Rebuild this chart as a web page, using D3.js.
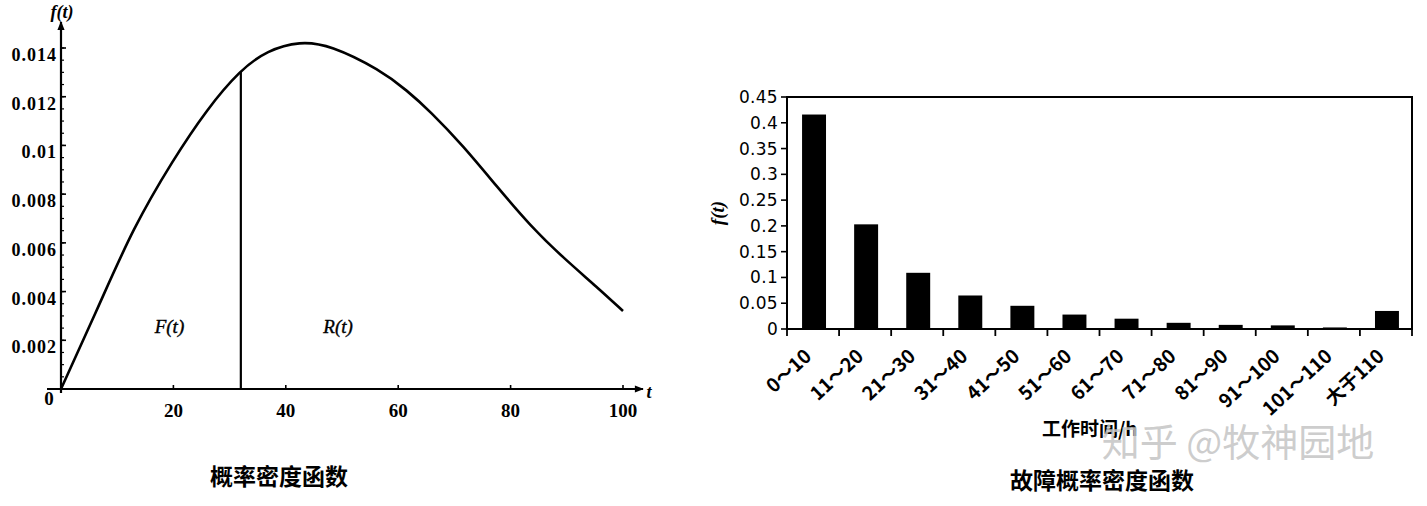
<!DOCTYPE html>
<html><head><meta charset="utf-8">
<script src="https://cdn.jsdelivr.net/npm/d3@7"></script>
<style>
body{margin:0;background:#fff;}
svg{display:block;}
.serif{font-family:"Liberation Serif","DejaVu Serif",serif;}
.cjk{font-family:"Noto Sans CJK SC",sans-serif;}
</style></head>
<body>
<svg id="chart" width="1427" height="506"></svg>
<script>
// ---- Left chart data: probability density curve ----
const curveT = [0, 6.9, 12.8, 19.9, 26, 31.9, 36.7, 42.5, 47.9, 56.8, 61.6, 65.7, 71.5, 77.6, 83.5, 89.3, 95.4, 100];
const curveF = [0, 0.0035, 0.0066, 0.0094, 0.0115, 0.0131, 0.0139, 0.01428, 0.01412, 0.0131, 0.01225, 0.0114, 0.0100, 0.0083, 0.0067, 0.0054, 0.00418, 0.0032];
const splitT = 32;
const splitF = 0.01302;
const leftYTicks = [0.002, 0.004, 0.006, 0.008, 0.01, 0.012, 0.014];
const leftYTickLabels = ["0.002", "0.004", "0.006", "0.008", "0.01", "0.012", "0.014"];
const leftXTicks = [20, 40, 60, 80, 100];
const leftXTickLabels = ["20", "40", "60", "80", "100"];
const leftTitle = "概率密度函数";

// ---- Right chart data: failure probability density bars ----
const categories = ["0～10", "11～20", "21～30", "31～40", "41～50", "51～60", "61～70", "71～80", "81～90", "91～100", "101～110", "大于110"];
const barValues = [0.416, 0.203, 0.109, 0.065, 0.045, 0.028, 0.020, 0.012, 0.008, 0.007, 0.003, 0.035];
const rightYTicks = [0, 0.05, 0.1, 0.15, 0.2, 0.25, 0.3, 0.35, 0.4, 0.45];
const rightYTickLabels = ["0", "0.05", "0.1", "0.15", "0.2", "0.25", "0.3", "0.35", "0.4", "0.45"];
const rightXTitle = "工作时间/h";
const rightTitle = "故障概率密度函数";
const watermark = "知乎 @牧神园地";

const svg = d3.select("#chart");
svg.append("rect").attr("width",1427).attr("height",506).attr("fill","#fff");

// ================= LEFT CHART =================
const lx = d3.scaleLinear().domain([0,100]).range([61,623]);
const ly = d3.scaleLinear().domain([0,0.014]).range([389,48]);
const L = svg.append("g");

const defs = svg.append("defs");
defs.append("marker").attr("id","arr").attr("viewBox","0 0 10 10").attr("refX",9).attr("refY",5)
  .attr("markerWidth",14).attr("markerHeight",9).attr("markerUnits","userSpaceOnUse").attr("orient","auto")
  .append("path").attr("d","M0,1 L10,5 L0,9 Z").attr("fill","#000");

L.append("line").attr("x1",lx(0)).attr("x2",lx(0)).attr("y1",393).attr("y2",22)
  .attr("stroke","#000").attr("stroke-width",2.2).attr("marker-end","url(#arr)");
L.append("line").attr("x1",47).attr("x2",643).attr("y1",ly(0)).attr("y2",ly(0))
  .attr("stroke","#000").attr("stroke-width",2.2).attr("marker-end","url(#arr)");

const minor = d3.range(1,29).map(i=>i*0.0005);
L.selectAll(".mt").data(minor).enter().append("line")
  .attr("x1",lx(0)).attr("x2",lx(0)+3).attr("y1",d=>ly(d)).attr("y2",d=>ly(d))
  .attr("stroke","#000").attr("stroke-width",1.2);
L.selectAll(".Mt").data(leftYTicks).enter().append("line")
  .attr("x1",lx(0)).attr("x2",lx(0)+5).attr("y1",d=>ly(d)).attr("y2",d=>ly(d))
  .attr("stroke","#000").attr("stroke-width",1.6);
L.selectAll(".yl").data(leftYTicks).enter().append("text").attr("class","serif")
  .attr("x",57).attr("y",d=>ly(d)+13).attr("text-anchor","end")
  .attr("font-size",18).attr("letter-spacing",1).attr("font-weight","bold")
  .text((d,i)=>leftYTickLabels[i]);
L.selectAll(".xt").data(leftXTicks).enter().append("line")
  .attr("x1",d=>lx(d)).attr("x2",d=>lx(d)).attr("y1",ly(0)).attr("y2",ly(0)-4)
  .attr("stroke","#000").attr("stroke-width",1.6);
L.selectAll(".xl").data(leftXTicks).enter().append("text").attr("class","serif")
  .attr("x",d=>lx(d)).attr("y",417).attr("text-anchor","middle")
  .attr("font-size",19).attr("font-weight","bold")
  .text((d,i)=>leftXTickLabels[i]);
L.append("text").attr("class","serif").attr("x",49).attr("y",405).attr("text-anchor","middle")
  .attr("font-size",19).attr("font-weight","bold").text("0");
L.append("text").attr("class","serif").attr("x",649).attr("y",398).attr("text-anchor","middle")
  .attr("font-size",18).attr("font-style","italic").attr("font-weight","bold").text("t");
L.append("text").attr("class","serif").attr("x",62).attr("y",18).attr("text-anchor","middle")
  .attr("font-size",18).attr("font-style","italic").attr("font-weight","bold").text("f(t)");

const pts = curveT.map((t,i)=>[t,curveF[i]]);
L.append("path").datum(pts)
  .attr("d", d3.line().x(d=>lx(d[0])).y(d=>ly(d[1])).curve(d3.curveBasis))
  .attr("fill","none").attr("stroke","#000").attr("stroke-width",2.6);
L.append("line").attr("x1",lx(splitT)).attr("x2",lx(splitT)).attr("y1",ly(0)).attr("y2",ly(splitF))
  .attr("stroke","#000").attr("stroke-width",2.2);
L.append("text").attr("class","serif").attr("x",lx(19.3)).attr("y",333).attr("text-anchor","middle")
  .attr("font-size",19).attr("font-style","italic").attr("stroke","#000").attr("stroke-width",0.4).text("F(t)");
L.append("text").attr("class","serif").attr("x",lx(49.3)).attr("y",333).attr("text-anchor","middle")
  .attr("font-size",19).attr("font-style","italic").attr("stroke","#000").attr("stroke-width",0.4).text("R(t)");
L.append("text").attr("class","cjk").attr("x",279).attr("y",485).attr("text-anchor","middle")
  .attr("font-size",23).attr("font-weight","bold").text(leftTitle);

// ================= RIGHT CHART =================
const R = svg.append("g");
const bx = d3.scaleBand().domain(categories).range([787,1412]).paddingInner(0.54).paddingOuter(0.27);
const by = d3.scaleLinear().domain([0,0.45]).range([329,97]);

R.append("rect").attr("x",787).attr("y",by(0.45)).attr("width",1412-787).attr("height",by(0)-by(0.45))
  .attr("fill","none").attr("stroke","#000").attr("stroke-width",2);

R.selectAll(".bar").data(barValues).enter().append("rect")
  .attr("x",(d,i)=>bx(categories[i])+1).attr("width",bx.bandwidth())
  .attr("y",d=>by(d)).attr("height",d=>by(0)-by(d)).attr("fill","#000");

R.selectAll(".ryt").data(rightYTicks).enter().append("line")
  .attr("x1",781).attr("x2",787).attr("y1",d=>by(d)).attr("y2",d=>by(d))
  .attr("stroke","#000").attr("stroke-width",1.6);
R.selectAll(".ryl").data(rightYTicks).enter().append("text")
  .attr("x",778).attr("y",d=>by(d)+6).attr("text-anchor","end")
  .attr("font-family","DejaVu Sans, sans-serif").attr("font-size",17).attr("letter-spacing",0.3)
  .attr("font-weight","500")
  .text((d,i)=>rightYTickLabels[i]);
R.append("text").attr("class","serif").attr("transform","translate(724,213) rotate(-90)")
  .attr("text-anchor","middle").attr("font-size",19).attr("font-style","italic").attr("font-weight","bold").text("f(t)");

const bounds = categories.map(c=>bx(c)-bx.step()*bx.paddingInner()/2).concat([1412]);
R.selectAll(".rxt").data(bounds).enter().append("line")
  .attr("x1",d=>d).attr("x2",d=>d).attr("y1",by(0)).attr("y2",by(0)+7)
  .attr("stroke","#000").attr("stroke-width",1.8);
R.selectAll(".rxl").data(categories).enter().append("text")
  .attr("transform",d=>`translate(${bx(d)+bx.bandwidth()/2-5},${by(0)+24}) rotate(-43)`)
  .attr("text-anchor","end").attr("font-family","Noto Sans CJK SC, sans-serif")
  .attr("font-size",19).attr("font-weight","bold").attr("dy","0.35em")
  .text(d=>d);
R.append("text").attr("class","cjk").attr("x",1042).attr("y",436)
  .attr("font-size",19).attr("font-weight","bold").text(rightXTitle);
R.append("text").attr("class","cjk").attr("x",1102).attr("y",489).attr("text-anchor","middle")
  .attr("font-size",23).attr("font-weight","bold").text(rightTitle);

svg.append("text").attr("class","cjk").attr("x",1238).attr("y",456).attr("text-anchor","middle")
  .attr("font-size",38).attr("fill","#c4c4c4").attr("fill-opacity",0.85).text(watermark);
</script>
</body></html>
